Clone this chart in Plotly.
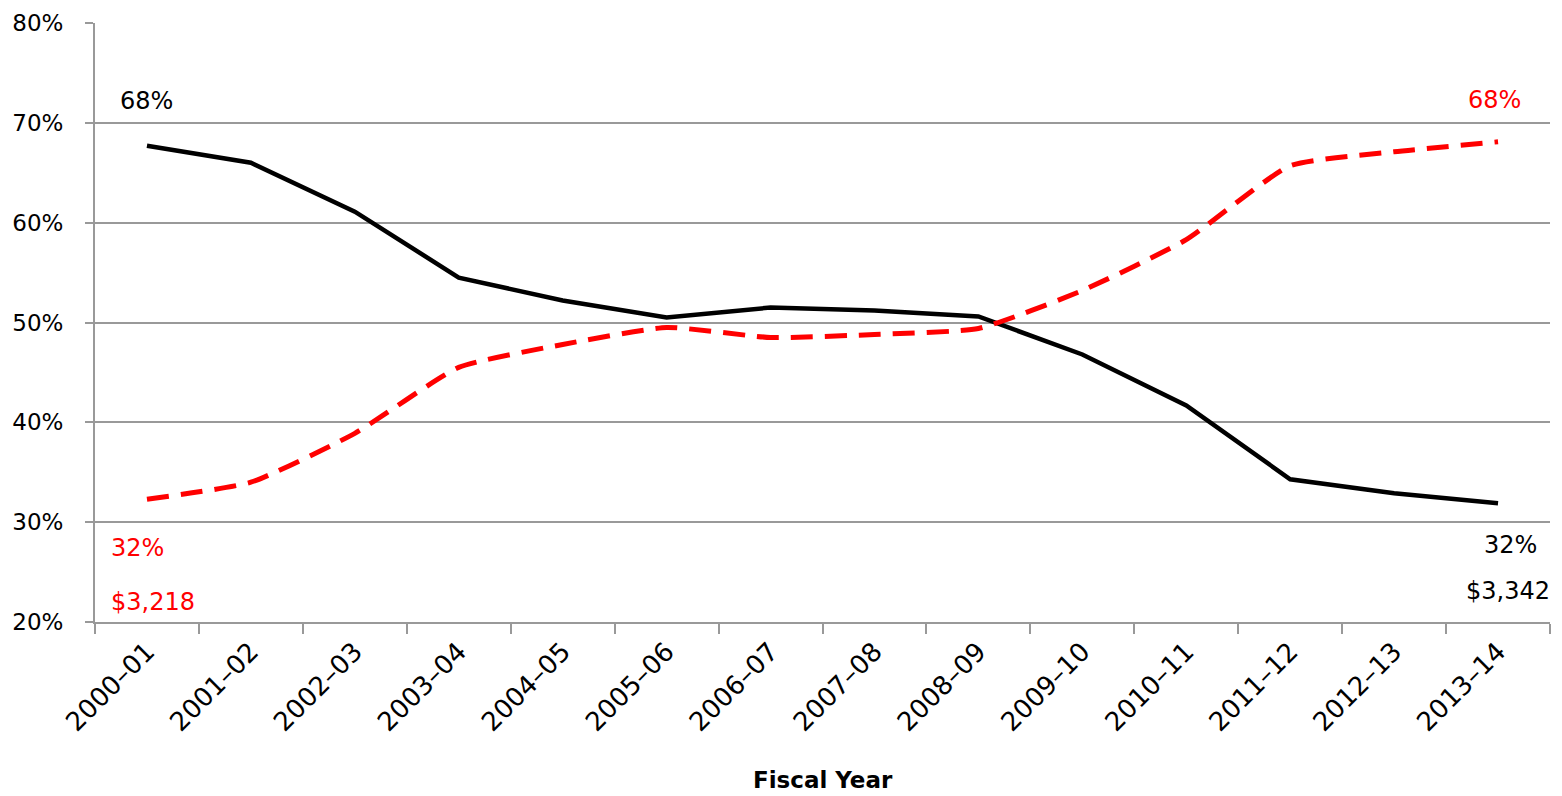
import plotly.graph_objects as go

years = ["2000-01", "2001-02", "2002-03", "2003-04", "2004-05", "2005-06", "2006-07",
         "2007-08", "2008-09", "2009-10", "2010-11", "2011-12", "2012-13", "2013-14"]
black_vals = [67.7, 66.0, 61.1, 54.5, 52.2, 50.5, 51.5, 51.2, 50.6, 46.8, 41.7, 34.3, 32.9, 31.9]
red_vals = [32.3, 34.0, 38.9, 45.5, 47.8, 49.5, 48.5, 48.8, 49.4, 53.2, 58.3, 65.7, 67.1, 68.1]
ytick_vals = [20, 30, 40, 50, 60, 70, 80]
ytick_text = ["20%", "30%", "40%", "50%", "60%", "70%", "80%"]
tick_labels = [y.replace("-", "\u2013") for y in years]

FONT = "DejaVu Sans"

fig = go.Figure()
fig.add_trace(go.Scatter(x=tick_labels, y=black_vals, mode="lines",
                         line=dict(color="black", width=4.5), showlegend=False))
fig.add_trace(go.Scatter(x=tick_labels, y=red_vals, mode="lines",
                         line=dict(color="#ff0000", width=5, dash="22px,12px",
                                   shape="spline", smoothing=0.5), showlegend=False))

annos = [
    (0, 72.2, "68%", "black"),
    (-0.09, 27.4, "32%", "#ff0000"),
    (0.06, 22.0, "$3,218", "#ff0000"),
    (12.97, 72.3, "68%", "#ff0000"),
    (13.12, 27.7, "32%", "black"),
    (13.1, 23.1, "$3,342", "black"),
]
for x, y, t, c in annos:
    fig.add_annotation(x=x, y=y, xref="x", yref="y", text=t, showarrow=False,
                       font=dict(family=FONT, size=24, color=c))

fig.add_annotation(x=0.5, y=-0.264, xref="paper", yref="paper", text="<b>Fiscal Year</b>",
                   showarrow=False, yanchor="middle",
                   font=dict(family=FONT, size=23, color="black"))

fig.update_layout(
    width=1554, height=788,
    margin=dict(l=87, r=12, t=15, b=174),
    paper_bgcolor="white", plot_bgcolor="white",
    font=dict(family=FONT, size=22, color="black"),
)
fig.update_xaxes(
    type="category", range=[-0.5, 13.5], tickangle=-45, automargin=False,
    tickson="boundaries", ticks="outside", ticklen=10, tickwidth=2, tickcolor="#999999",
    showline=True, linecolor="#999999", linewidth=2, showgrid=False,
    tickfont=dict(family=FONT, size=26, color="black"), ticklabelstandoff=2,
)
fig.update_yaxes(
    range=[20, 80], tickvals=ytick_vals, ticktext=ytick_text, automargin=False,
    ticks="outside", ticklen=8, tickwidth=2, tickcolor="#999999",
    showline=True, linecolor="#999999", linewidth=2,
    showgrid=True, gridcolor="#999999", gridwidth=2, zeroline=False,
    tickfont=dict(family=FONT, size=23, color="black"), ticklabelstandoff=17,
)

fig.write_html("out.html")
